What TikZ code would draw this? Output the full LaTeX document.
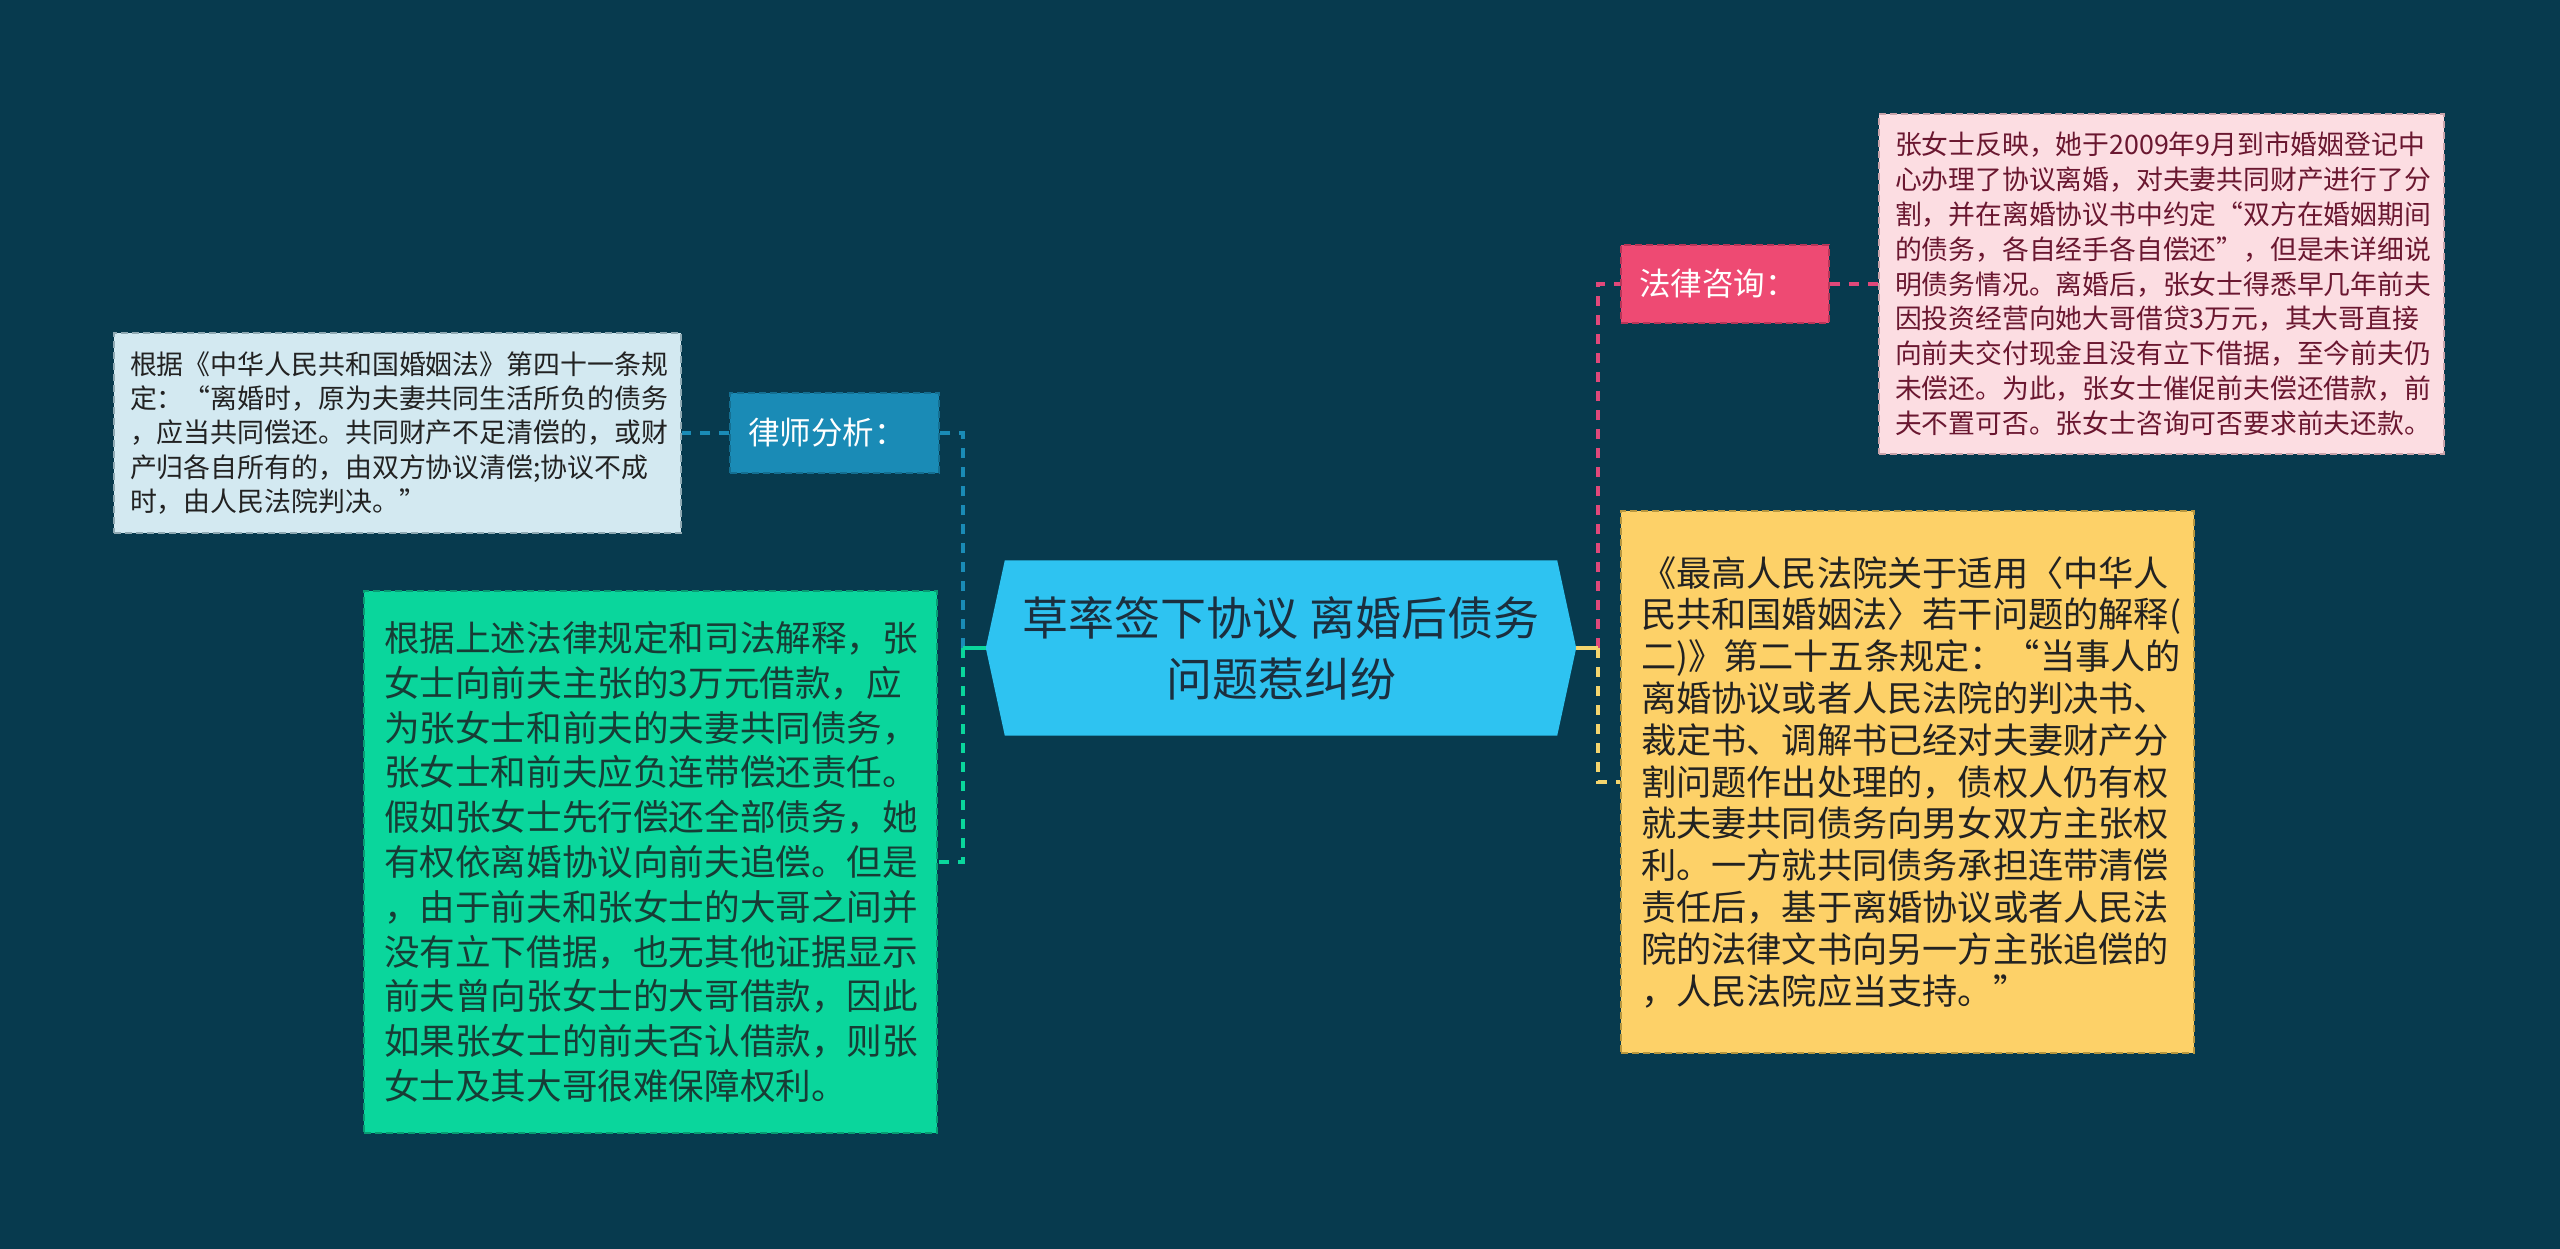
\documentclass[tikz,border=0pt]{standalone}
\usepackage{fontspec}
\setmainfont{Noto Sans CJK SC}
\usetikzlibrary{backgrounds}
\definecolor{bgc}{HTML}{073A4E}
\definecolor{hexc}{HTML}{2EC3F1}
\definecolor{hextext}{HTML}{1B2F3F}
\definecolor{lawc}{HTML}{1A8BB6}
\definecolor{lawb}{HTML}{146F92}
\definecolor{lbluec}{HTML}{D3E9F1}
\definecolor{lblueb}{HTML}{8FA9B3}
\definecolor{greenc}{HTML}{0AD69C}
\definecolor{greenb}{HTML}{089C73}
\definecolor{greentext}{HTML}{173C35}
\definecolor{consc}{HTML}{EE4A73}
\definecolor{consb}{HTML}{B83558}
\definecolor{pinkc}{HTML}{FCDDE2}
\definecolor{pinkb}{HTML}{C9A3AA}
\definecolor{pinktext}{HTML}{6A1730}
\definecolor{yelc}{HTML}{FDD168}
\definecolor{yelb}{HTML}{B8973F}
\definecolor{darktext}{HTML}{222222}
\definecolor{linkpink}{HTML}{E0487A}
\definecolor{linkyel}{HTML}{F4D56E}
\begin{document}
\begin{tikzpicture}[x=1pt,y=-1pt,
  box/.style={inner ysep=0pt, align=left, line width=2pt, dash pattern=on 7pt off 4pt},
  link/.style={line width=4pt, dash pattern=on 10pt off 9pt},
  solidlink/.style={line width=4pt},
]
\begin{scope}[on background layer]
\fill[bgc] (0,0) rectangle (2560,1249);
\end{scope}
\useasboundingbox (0,0) rectangle (2560,1249);

% center
\node[minimum width=590pt, minimum height=175pt, inner sep=0pt, align=center,
      text=hextext, font=\fontsize{46}{61}\selectfont] (c) at (1281,648)
  {草率签下协议 离婚后债务\\问题惹纠纷};
\begin{scope}[on background layer]
\fill[hexc] ([xshift=19pt]c.north west) -- ([xshift=-19pt]c.north east) -- (c.east)
  -- ([xshift=-19pt]c.south east) -- ([xshift=19pt]c.south west) -- (c.west) -- cycle;
\end{scope}

% left side
\node[box, fill=lawc, draw=lawb, text=white, minimum width=209pt, minimum height=80pt,
      inner xsep=18pt, text width=173pt, font=\fontsize{31.5}{38}\selectfont] (law) at (834.5,433) {律师分析：};
\node[box, fill=lbluec, draw=lblueb, text=darktext, minimum width=567pt, minimum height=200pt,
      inner xsep=16pt, text width=535pt, font=\fontsize{26.9}{34.3}\selectfont] (lblue) at (397.5,433)
  {根据《中华人民共和国婚姻法》第四十一条规\\定：“离婚时，原为夫妻共同生活所负的债务\\，应当共同偿还。共同财产不足清偿的，或财\\产归各自所有的，由双方协议清偿;协议不成\\时，由人民法院判决。”};
\node[box, fill=greenc, draw=greenb, text=greentext, minimum width=573pt, minimum height=542pt,
      inner xsep=20pt, text width=533pt, font=\fontsize{35.6}{44.8}\selectfont] (green) at (650.5,862)
  {根据上述法律规定和司法解释，张\\女士向前夫主张的3万元借款，应\\为张女士和前夫的夫妻共同债务，\\张女士和前夫应负连带偿还责任。\\假如张女士先行偿还全部债务，她\\有权依离婚协议向前夫追偿。但是\\，由于前夫和张女士的大哥之间并\\没有立下借据，也无其他证据显示\\前夫曾向张女士的大哥借款，因此\\如果张女士的前夫否认借款，则张\\女士及其大哥很难保障权利。};

% right side
\node[box, fill=consc, draw=consb, text=white, minimum width=208pt, minimum height=78pt,
      inner xsep=18pt, text width=172pt, font=\fontsize{31.5}{38}\selectfont] (cons) at (1725,284) {法律咨询：};
\node[box, fill=pinkc, draw=pinkb, text=pinktext, minimum width=565pt, minimum height=340pt,
      inner xsep=16pt, text width=533pt, font=\fontsize{26.8}{34.8}\selectfont] (pink) at (2161.5,284)
  {张女士反映，她于2009年9月到市婚姻登记中\\心办理了协议离婚，对夫妻共同财产进行了分\\割，并在离婚协议书中约定“双方在婚姻期间\\的债务，各自经手各自偿还”，但是未详细说\\明债务情况。离婚后，张女士得悉早几年前夫\\因投资经营向她大哥借贷3万元，其大哥直接\\向前夫交付现金且没有立下借据，至今前夫仍\\未偿还。为此，张女士催促前夫偿还借款，前\\夫不置可否。张女士咨询可否要求前夫还款。};
\node[box, fill=yelc, draw=yelb, text=darktext, minimum width=573pt, minimum height=542pt,
      inner xsep=20pt, text width=533pt, font=\fontsize{35.2}{41.8}\selectfont] (yel) at (1907.5,782)
  {《最高人民法院关于适用〈中华人\\民共和国婚姻法〉若干问题的解释(\\二)》第二十五条规定：“当事人的\\离婚协议或者人民法院的判决书、\\裁定书、调解书已经对夫妻财产分\\割问题作出处理的，债权人仍有权\\就夫妻共同债务向男女双方主张权\\利。一方就共同债务承担连带清偿\\责任后，基于离婚协议或者人民法\\院的法律文书向另一方主张追偿的\\，人民法院应当支持。”};

% junctions
\coordinate (lj) at (963,648);
\coordinate (rj) at (1598,648);

% connectors
\draw[lawc, link] (lj) |- (law.east);
\draw[greenc, link] (lj) |- (green.east);
\draw[greenc, solidlink] (c.west) -- (lj);
\draw[lawc, link] (law.west) -- (lblue.east);
\draw[linkpink, link] (rj) |- (cons.west);
\draw[linkyel, link] (rj) |- (yel.west);
\draw[linkyel, solidlink] (c.east) -- (rj);
\draw[linkpink, link] (cons.east) -- (pink.west);
\end{tikzpicture}
\end{document}
